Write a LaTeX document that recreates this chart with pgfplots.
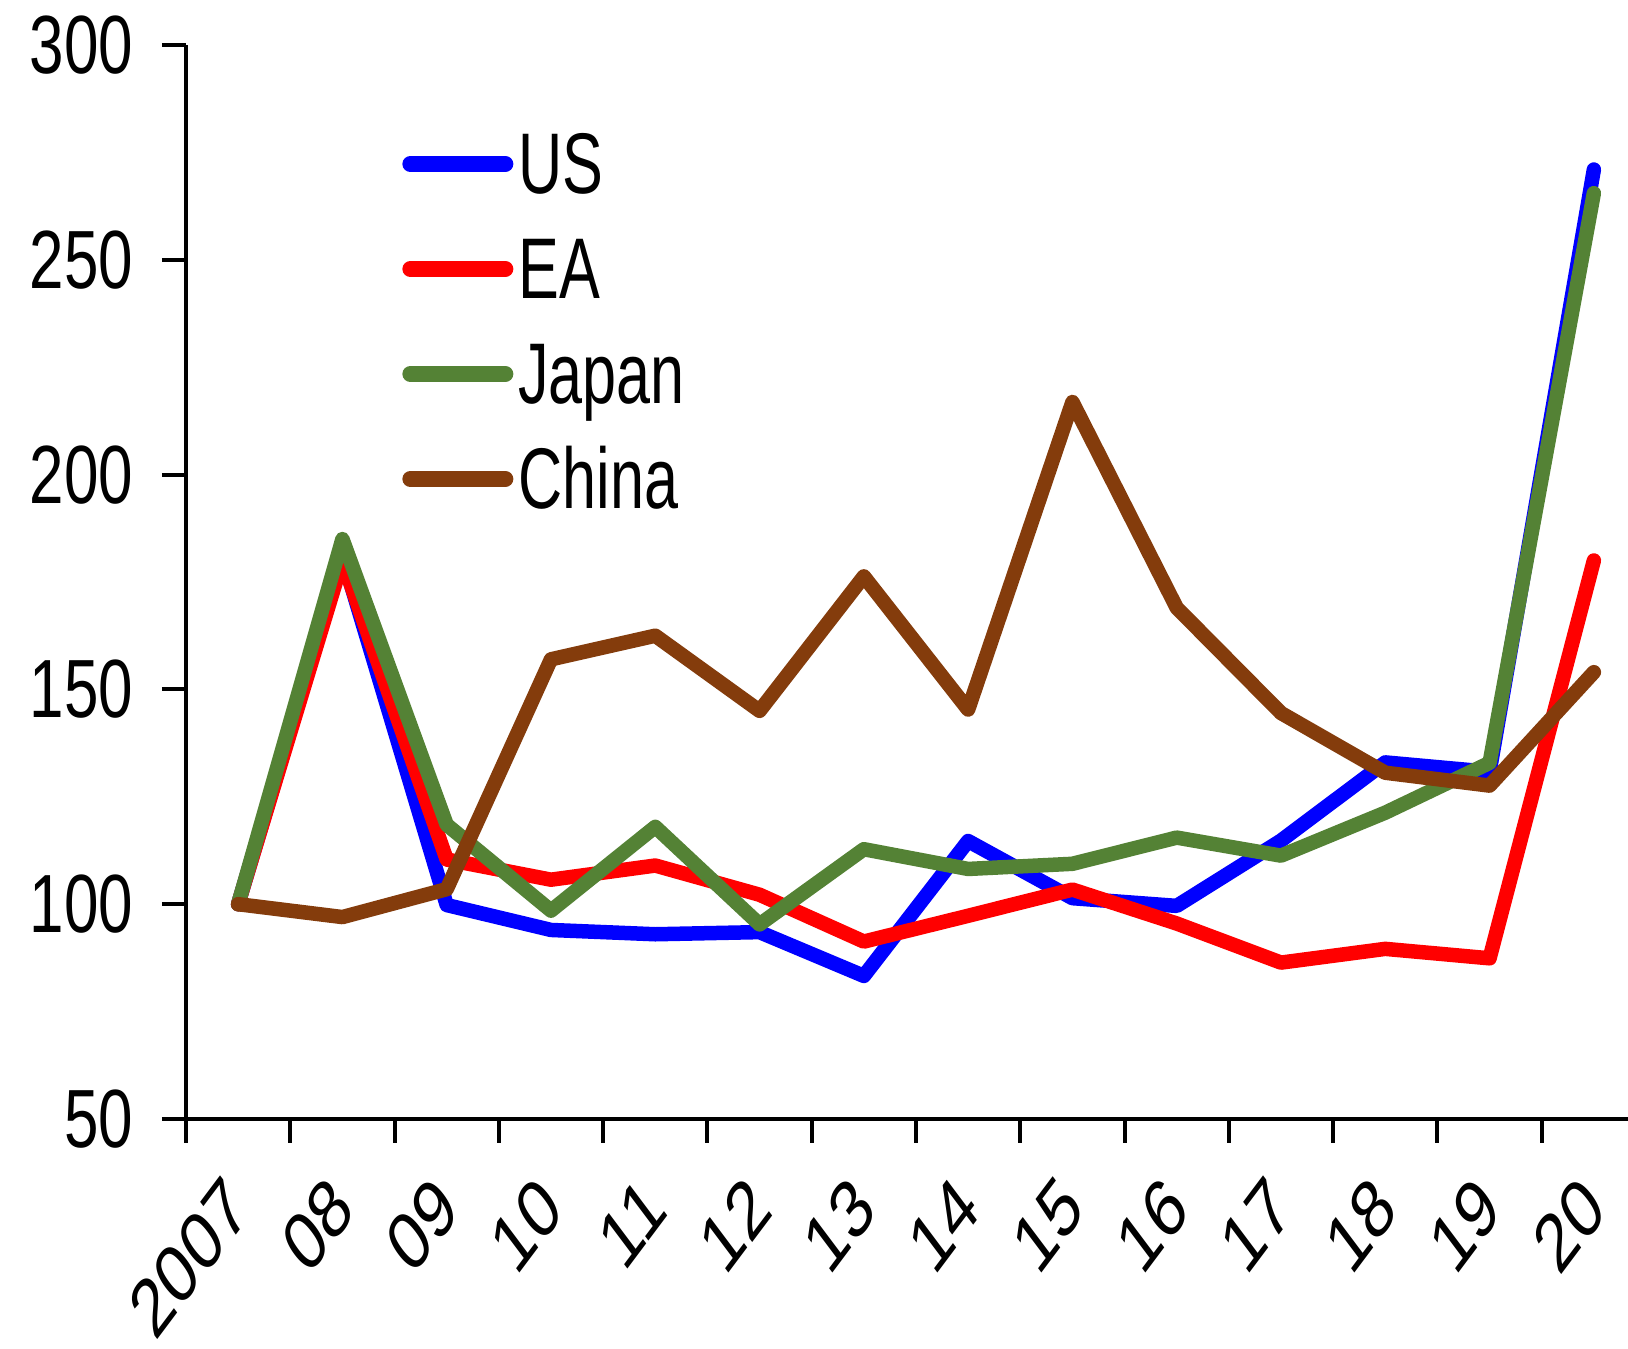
\documentclass[border=0pt]{standalone}
\usepackage{fontspec}
\setmainfont{Liberation Sans}
\newfontfamily\narrowfont[FakeStretch=0.75]{Liberation Sans}
\newfontfamily\legendfont[FakeStretch=0.71]{Liberation Sans}
\usepackage{pgfplots}
\usepackage{pgfplotstable}
\pgfplotsset{compat=1.18}

\definecolor{usblue}{RGB}{0,0,255}
\definecolor{eared}{RGB}{255,0,0}
\definecolor{jpgreen}{RGB}{84,130,53}
\definecolor{cnbrown}{RGB}{132,60,12}

% Index, 2007 = 100
\pgfplotstableread{
x   us     ea     jp     cn
0   100    100    100    100
1   181    180    185    97
2   99.8   110.4  118.5  103.5
3   94     105.7  98.5   157
4   93     109    118    162.5
5   93.5   102.2  95.3   145
6   83.3   91.3   112.8  176.3
7   114.7  97.3   108.2  145.3
8   101.4  103.4  109.4  216.9
9   99.6   95.5   115.5  169
10  114.8  86.4   111.3  144.5
11  133    89.6   121.3  130.6
12  130.8  87.4   132.9  127.6
13  271    180    265.5  154
}\datatable

\begin{document}
\begin{tikzpicture}
\begin{axis}[
  name=ax,
  scale only axis,
  width=146mm, height=107.4mm,
  xmin=-0.5, xmax=13.5,
  ymin=50, ymax=300,
  clip=false,
  axis lines=left,
  axis line style={-, line width=0.4mm, black},
  tick align=outside,
  every tick/.style={black, line width=0.4mm},
  major tick length=2.4mm,
  ytick={50,100,...,300},
  xtick={-0.5,0.5,...,13.5},
  xticklabels={},
  extra x ticks={0,...,13},
  extra x tick labels={2007,08,09,10,11,12,13,14,15,16,17,18,19,20},
  extra x tick style={major tick length=0pt},
  /pgf/number format/assume math mode=true,
  yticklabel style={font=\narrowfont\fontsize{23.5}{28}\selectfont, anchor=east, inner sep=0pt, xshift=-2.8mm},
  xticklabel style={font=\fontsize{23.5}{28}\selectfont, yshift=-7.3mm, xscale=0.75, rotate=45, anchor=east, inner sep=0pt},
  legend style={draw=none, fill=none, at={(0.1477,0.931)}, anchor=north west,
    inner sep=0pt, row sep=0pt, column sep=0.5mm,
    nodes={inner sep=0pt, text height=7.4mm, text depth=3.1mm,
      font=\legendfont\fontsize{24.5}{29}\selectfont}},
  legend cell align=left,
  legend image code/.code={\draw[#1, line width=1.6mm, line cap=round] (0mm,0.83mm) -- (9.5mm,0.83mm);},
  every axis plot/.append style={line width=1.45mm, line join=round, line cap=round},
]
\addplot[usblue] table[x=x, y=us] {\datatable};
\addlegendentry{US}
\addplot[eared] table[x=x, y=ea] {\datatable};
\addlegendentry{EA}
\addplot[jpgreen] table[x=x, y=jp] {\datatable};
\addlegendentry{Japan}
\addplot[cnbrown] table[x=x, y=cn] {\datatable};
\addlegendentry{China}
\end{axis}
\pgfresetboundingbox
\path[use as bounding box] ([shift={(-18.6mm,-23.0mm)}]ax.south west) rectangle ([shift={(144.2mm,111.9mm)}]ax.south west);
\end{tikzpicture}
\end{document}
